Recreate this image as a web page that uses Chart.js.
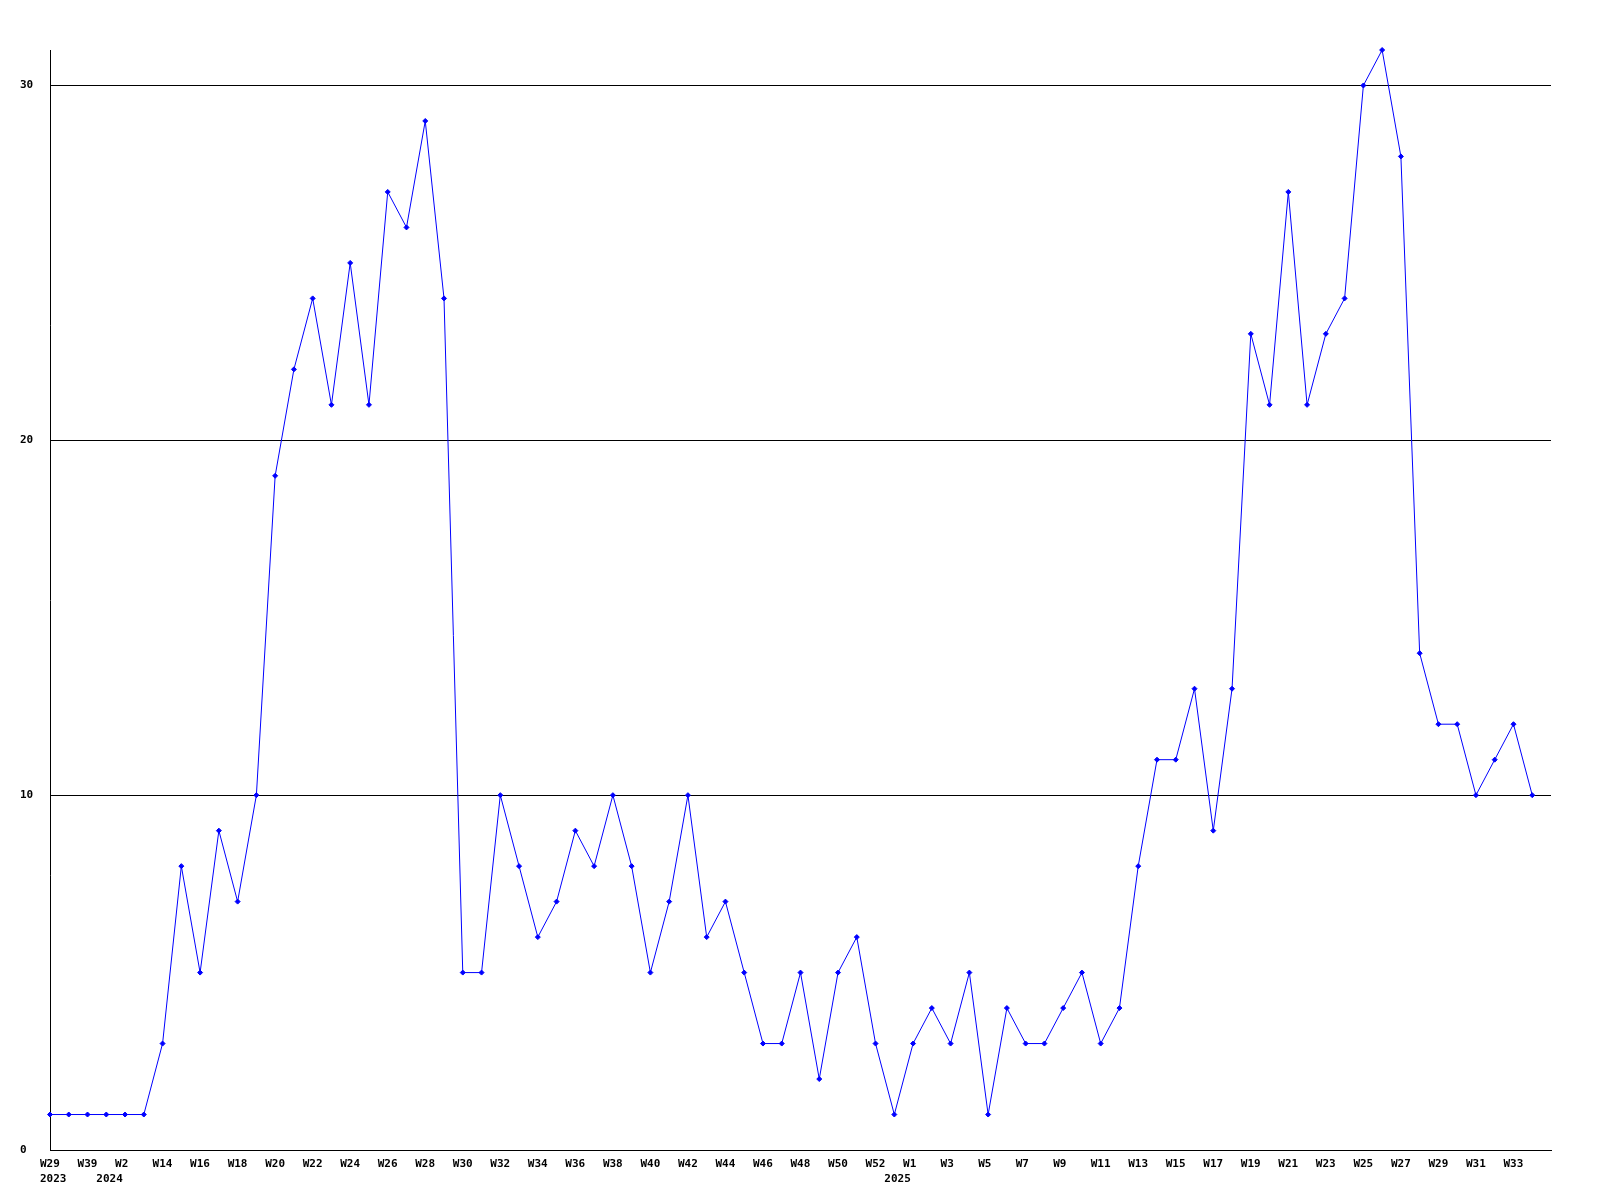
<!DOCTYPE html>
<html lang="en">
<head>
  <meta charset="UTF-8">
  <title>Weekly count</title>
  <script src="https://cdn.jsdelivr.net/npm/chart.js"></script>
  <style>
    body {
      margin: 0;
      background: #ffffff;
    }
    #wrap {
      width: 1600px;
      height: 1200px;
    }
  </style>
</head>
<body>
  <div id="wrap"><canvas id="chart" width="1600" height="1200"></canvas></div>

  <script>
  // week labels (x axis), one per point
  const weeks = [
    'W29', 'W35', 'W39',
    'W1', 'W2', 'W8', 'W14', 'W15', 'W16', 'W17', 'W18', 'W19', 'W20', 'W21', 'W22', 'W23',
    'W24', 'W25', 'W26', 'W27', 'W28', 'W29', 'W30', 'W31', 'W32', 'W33', 'W34', 'W35',
    'W36', 'W37', 'W38', 'W39', 'W40', 'W41', 'W42', 'W43', 'W44', 'W45', 'W46', 'W47',
    'W48', 'W49', 'W50', 'W51', 'W52',
    'W0', 'W1', 'W2', 'W3', 'W4', 'W5', 'W6', 'W7', 'W8', 'W9', 'W10', 'W11', 'W12',
    'W13', 'W14', 'W15', 'W16', 'W17', 'W18', 'W19', 'W20', 'W21', 'W22', 'W23', 'W24',
    'W25', 'W26', 'W27', 'W28', 'W29', 'W30', 'W31', 'W32', 'W33', 'W34'
  ];
  // year shown under the first week of each year
  const years = {0: '2023', 3: '2024', 45: '2025'};

  const counts = [
    1, 1, 1,
    1, 1, 1, 3, 8, 5, 9, 7, 10, 19, 22, 24, 21,
    25, 21, 27, 26, 29, 24, 5, 5, 10, 8, 6, 7,
    9, 8, 10, 8, 5, 7, 10, 6, 7, 5, 3, 3,
    5, 2, 5, 6, 3,
    1, 3, 4, 3, 5, 1, 4, 3, 3, 4, 5, 3, 4,
    8, 11, 11, 13, 9, 13, 23, 21, 27, 21, 23, 24,
    30, 31, 28, 14, 12, 12, 10, 11, 12, 10
  ];

  const yTicks = [0, 10, 20, 30];

  const points = counts.map((v, i) => ({ x: i, y: v }));
  const font = { family: "'DejaVu Sans Mono', monospace", size: 11, weight: 'bold', lineHeight: 1.35 };

  new Chart(document.getElementById('chart'), {
    type: 'line',
    data: {
      datasets: [{
        data: points,
        borderColor: '#0000ff',
        backgroundColor: '#0000ff',
        borderWidth: 1,
        pointStyle: 'rectRot',
        pointRadius: 2.5,
        pointBorderWidth: 1,
        tension: 0,
        clip: false
      }]
    },
    options: {
      responsive: false,
      animation: false,
      layout: { padding: { left: 20, top: 50, right: 49, bottom: 0 } },
      plugins: { legend: { display: false }, tooltip: { enabled: false } },
      scales: {
        x: {
          type: 'linear',
          min: 0,
          max: 80,
          grid: { display: false },
          border: { display: true, color: '#000', width: 1 },
          afterFit: s => { s.height = 50; },
          ticks: {
            stepSize: 1,
            maxTicksLimit: 200,
            autoSkip: false,
            maxRotation: 0,
            minRotation: 0,
            align: 'start',
            labelOffset: -10,
            padding: -1,
            color: '#000',
            font: font,
            callback: (v, i) => {
              if (v >= weeks.length) return '';
              const w = v % 2 === 0 ? weeks[v] : '';
              return [w, years[v] || ''];
            }
          }
        },
        y: {
          min: 0,
          max: 31,
          grid: { color: '#000', lineWidth: 1, drawTicks: false },
          border: { display: true, color: '#000', width: 1 },
          afterFit: s => { s.width = 30; },
          afterBuildTicks: s => { s.ticks = yTicks.map(v => ({ value: v })); },
          ticks: {
            crossAlign: 'far',
            color: '#000',
            font: font,
            padding: 0
          }
        }
      }
    }
  });
  </script>
</body>
</html>
